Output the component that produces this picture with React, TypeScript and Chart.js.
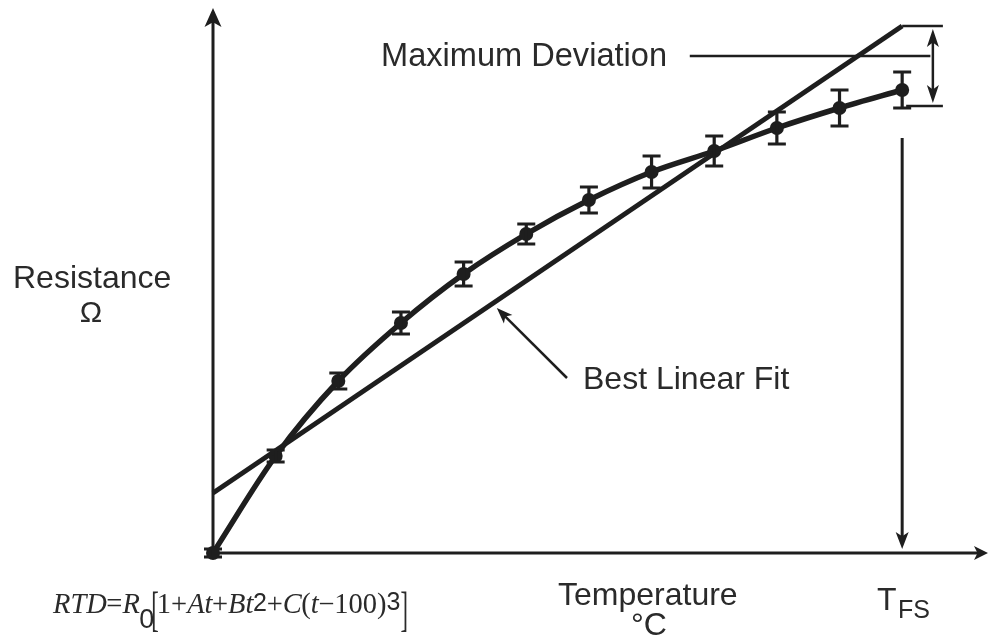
import React, { useEffect, useRef } from "react";
import { Chart, registerables } from "chart.js";
Chart.register(...registerables);

// ---- data ----
const TEMPERATURE_STEPS = [0, 1, 2, 3, 4, 5, 6, 7, 8, 9, 10, 11];
const RESISTANCE = [0, 19.4, 34.4, 46, 55.8, 63.8, 70.6, 76.2, 80.4, 85, 89, 92.6];
const ERROR = [0.8, 1.2, 1.6, 2.2, 2.4, 2.0, 2.6, 3.2, 3.0, 3.2, 3.6, 3.6];
const FIT_X = [0, 11];
const FIT_Y = [12, 105.4];

// ---- scale bounds / annotation anchors (data units) ----
const X_MAX = 12.37;
const Y_MAX = 109;
const T_FS = 11;
const T_FS_ARROW_TOP = 83;
const DEV_TOP = 105.4;
const DEV_BOTTOM = 89.4;
const DEV_BRACKET_END = 11.65;
const DEV_ARROW_X = 11.49;
const DEV_LINE_Y = 99.4;
const DEV_LINE_X = [7.61, 11.45];
const FIT_ARROW_TAIL = { x: 5.65, y: 35 };
const FIT_ARROW_HEAD = { x: 4.53, y: 49 };

const INK = "#1e1e1e";
const TEXT = "#2a2a2a";
const SANS = '"Liberation Sans", Arial, Helvetica, sans-serif';
const SERIF = '"Liberation Serif", "Times New Roman", serif';

function arrow(ctx: CanvasRenderingContext2D, x1: number, y1: number, x2: number, y2: number, len: number, half: number, width: number) {
  const a = Math.atan2(y2 - y1, x2 - x1);
  const bx = x2 - Math.cos(a) * len;
  const by = y2 - Math.sin(a) * len;
  ctx.lineWidth = width;
  ctx.beginPath();
  ctx.moveTo(x1, y1);
  ctx.lineTo(x2 - Math.cos(a) * len * 0.6, y2 - Math.sin(a) * len * 0.6);
  ctx.stroke();
  ctx.beginPath();
  ctx.moveTo(x2, y2);
  ctx.lineTo(bx + Math.cos(a + Math.PI / 2) * half, by + Math.sin(a + Math.PI / 2) * half);
  ctx.lineTo(x2 - Math.cos(a) * len * 0.75, y2 - Math.sin(a) * len * 0.75);
  ctx.lineTo(bx - Math.cos(a + Math.PI / 2) * half, by - Math.sin(a + Math.PI / 2) * half);
  ctx.closePath();
  ctx.fill();
}

const axesPlugin = {
  id: "axesArrows",
  beforeDatasetsDraw(chart: any) {
    const { ctx, chartArea } = chart;
    ctx.save();
    ctx.strokeStyle = INK;
    ctx.fillStyle = INK;
    arrow(ctx, chartArea.left, chartArea.bottom, chartArea.left, chartArea.top, 19, 8.5, 3);
    arrow(ctx, chartArea.left, chartArea.bottom, chartArea.right, chartArea.bottom, 14, 7, 3);
    ctx.restore();
  },
};

const errorBarPlugin = {
  id: "errorBars",
  afterDatasetsDraw(chart: any) {
    const { ctx } = chart;
    const xs = chart.scales.x;
    const ys = chart.scales.y;
    ctx.save();
    ctx.strokeStyle = INK;
    ctx.lineWidth = 3.2;
    TEMPERATURE_STEPS.forEach((t, i) => {
      const px = xs.getPixelForValue(t);
      const top = ys.getPixelForValue(RESISTANCE[i] + ERROR[i]);
      const bot = ys.getPixelForValue(RESISTANCE[i] - ERROR[i]);
      ctx.beginPath();
      ctx.moveTo(px, top);
      ctx.lineTo(px, bot);
      ctx.moveTo(px - 9, top);
      ctx.lineTo(px + 9, top);
      ctx.moveTo(px - 9, bot);
      ctx.lineTo(px + 9, bot);
      ctx.stroke();
    });
    ctx.restore();
  },
};

const FORMULA: [string, string, number, number][] = [
  // text, font, size, baseline shift
  ["RTD", "italic", 28.5, 0],
  ["=", "normal", 28.5, 0],
  ["R", "italic", 28.5, 0],
  ["0", "sans", 27, 15],
  ["[", "bracket", 30, 0],
  ["1", "normal", 28.5, 0],
  ["+", "normal", 28.5, 0],
  ["At", "italic", 28.5, 0],
  ["+", "normal", 28.5, 0],
  ["Bt", "italic", 28.5, 0],
  ["2", "sans", 25, -2],
  ["+", "normal", 28.5, 0],
  ["C", "italic", 28.5, 0],
  ["(", "normal", 28.5, 0],
  ["t", "italic", 28.5, 0],
  ["\u2212100)", "normal", 28.5, 0],
  ["3", "sans", 25, -3],
  ["]", "bracket", 30, 0],
];

const annotationPlugin = {
  id: "annotations",
  afterDraw(chart: any) {
    const { ctx } = chart;
    const xs = chart.scales.x;
    const ys = chart.scales.y;
    const X = (v: number) => xs.getPixelForValue(v);
    const Y = (v: number) => ys.getPixelForValue(v);
    ctx.save();
    ctx.strokeStyle = INK;
    ctx.fillStyle = INK;

    // full-scale vertical arrow
    arrow(ctx, X(T_FS), Y(T_FS_ARROW_TOP), X(T_FS), Y(0) - 4, 17, 6.5, 3);

    // max deviation bracket
    ctx.lineWidth = 2.5;
    ctx.beginPath();
    ctx.moveTo(X(FIT_X[1]), Y(DEV_TOP));
    ctx.lineTo(X(DEV_BRACKET_END), Y(DEV_TOP));
    ctx.moveTo(X(T_FS) + 4, Y(DEV_BOTTOM));
    ctx.lineTo(X(DEV_BRACKET_END), Y(DEV_BOTTOM));
    ctx.moveTo(X(DEV_LINE_X[0]), Y(DEV_LINE_Y));
    ctx.lineTo(X(DEV_LINE_X[1]), Y(DEV_LINE_Y));
    ctx.stroke();
    const midY = (Y(DEV_TOP) + Y(DEV_BOTTOM)) / 2;
    arrow(ctx, X(DEV_ARROW_X), midY, X(DEV_ARROW_X), Y(DEV_TOP) + 3, 18, 6, 2.5);
    arrow(ctx, X(DEV_ARROW_X), midY, X(DEV_ARROW_X), Y(DEV_BOTTOM) - 3, 18, 6, 2.5);

    // best fit pointer
    arrow(ctx, X(FIT_ARROW_TAIL.x), Y(FIT_ARROW_TAIL.y), X(FIT_ARROW_HEAD.x), Y(FIT_ARROW_HEAD.y), 16, 6, 2.5);

    // labels
    ctx.fillStyle = TEXT;
    ctx.textBaseline = "alphabetic";
    ctx.textAlign = "left";
    ctx.font = `32.6px ${SANS}`;
    ctx.fillText("Maximum Deviation", 381, 66);
    ctx.font = `32px ${SANS}`;
    ctx.fillText("Resistance", 13, 288);
    ctx.fillText("Best Linear Fit", 583, 389);
    ctx.fillText("Temperature", 558, 605);
    ctx.fillText("T", 877, 610);
    ctx.font = `25px ${SANS}`;
    ctx.fillText("FS", 898, 618);
    ctx.textAlign = "center";
    ctx.font = `30px ${SANS}`;
    ctx.fillText("\u03a9", 91, 322);
    ctx.font = `32px ${SANS}`;
    ctx.fillText("\u00b0C", 649, 635);

    // formula
    ctx.textAlign = "left";
    let x = 53;
    const base = 613;
    for (const [txt, kind, size, shift] of FORMULA) {
      if (kind === "bracket") {
        ctx.font = `${size}px ${SERIF}`;
        ctx.save();
        ctx.translate(x, base + 12);
        ctx.scale(0.75, 1.65);
        ctx.fillText(txt, 0, 0);
        const w = ctx.measureText(txt).width * 0.75;
        ctx.restore();
        x += w - 2;
        continue;
      }
      if (kind === "italic") ctx.font = `italic ${size}px ${SERIF}`;
      else if (kind === "sans") ctx.font = `${size}px ${SANS}`;
      else ctx.font = `${size}px ${SERIF}`;
      ctx.fillText(txt, x, base + shift);
      let w = ctx.measureText(txt).width;
      if (txt === "0") w -= 3;
      x += w - (kind === "italic" ? 0.5 : 0);
    }
    ctx.restore();
  },
};

export default function App() {
  const ref = useRef<HTMLCanvasElement | null>(null);
  useEffect(() => {
    if (!ref.current) return;
    const chart = new Chart(ref.current, {
      type: "line",
      data: {
        datasets: [
          {
            label: "Best Linear Fit",
            data: FIT_X.map((x, i) => ({ x, y: FIT_Y[i] })),
            borderColor: INK,
            borderWidth: 5,
            pointRadius: 0,
            tension: 0,
            clip: false as any,
          },
          {
            label: "RTD",
            data: TEMPERATURE_STEPS.map((x, i) => ({ x, y: RESISTANCE[i] })),
            borderColor: INK,
            borderWidth: 5.5,
            pointRadius: 7,
            pointBackgroundColor: INK,
            pointBorderWidth: 0,
            cubicInterpolationMode: "monotone",
            clip: false as any,
          },
        ],
      },
      options: {
        animation: false,
        responsive: true,
        maintainAspectRatio: false,
        layout: { autoPadding: false, padding: { left: 213, right: 2, top: 8, bottom: 88 } },
        plugins: { legend: { display: false }, tooltip: { enabled: false } },
        events: [],
        scales: {
          x: { type: "linear", min: 0, max: X_MAX, display: false },
          y: { type: "linear", min: 0, max: Y_MAX, display: false },
        },
      },
      plugins: [axesPlugin, errorBarPlugin, annotationPlugin],
    });
    return () => chart.destroy();
  }, []);
  return (
    <div style={{ position: "absolute", left: 0, top: 0, width: 990, height: 641, background: "#fff" }}>
      <canvas ref={ref} />
    </div>
  );
}
